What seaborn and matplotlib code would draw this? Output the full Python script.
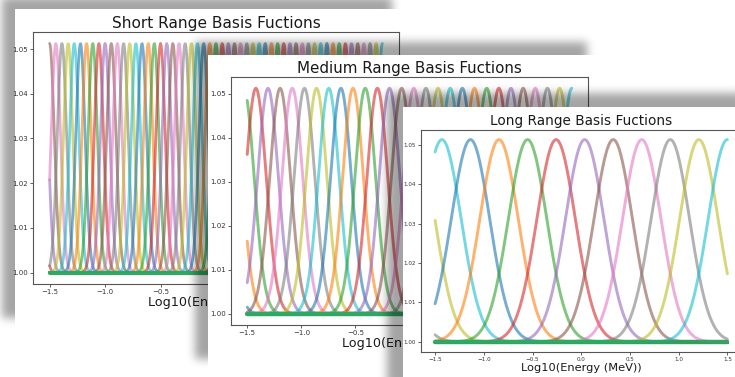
import numpy as np
import pandas as pd
import matplotlib
matplotlib.use("Agg")
import matplotlib.pyplot as plt
from matplotlib.ticker import FuncFormatter
import seaborn as sns

W, H = 735, 377

# ---- data -------------------------------------------------------------
log_energy = np.linspace(-1.5, 1.5, 601)

short_centers = [-1.778, -1.722, -1.667, -1.611, -1.556, -1.500, -1.444, -1.389, -1.333, -1.278,
                 -1.222, -1.167, -1.111, -1.056, -1.000, -0.944, -0.889, -0.833, -0.778, -0.722,
                 -0.667, -0.611, -0.556, -0.500, -0.444, -0.389, -0.333, -0.278, -0.222, -0.167,
                 -0.111, -0.056, 0.000, 0.056, 0.111, 0.167, 0.222, 0.278, 0.333, 0.389,
                 0.444, 0.500, 0.556, 0.611, 0.667, 0.722, 0.778, 0.833, 0.889, 0.944,
                 1.000, 1.056, 1.111, 1.167, 1.222, 1.278, 1.333, 1.389, 1.444, 1.500]
short_width = 0.042

medium_centers = [-1.757, -1.645, -1.532, -1.420, -1.308, -1.196, -1.083, -0.971, -0.859, -0.746,
                  -0.634, -0.522, -0.409, -0.297, -0.185, -0.072, 0.040, 0.152, 0.264, 0.377,
                  0.489, 0.601, 0.714, 0.826, 0.938, 1.051, 1.163, 1.275, 1.388, 1.500]
medium_width = 0.097

long_centers = [-4.067, -3.774, -3.481, -3.188, -2.895, -2.602, -2.309, -2.016, -1.700, -1.430,
                -1.137, -0.844, -0.551, -0.258, 0.035, 0.328, 0.621, 0.914, 1.207, 1.500]
long_width = 0.20

# basis functions parked far outside the plotted window (flat at 1.00)
edge_centers = [-9.0, 9.0]

basis_amplitude = 0.05

titles = ["Short Range Basis Fuctions", "Medium Range Basis Fuctions", "Long Range Basis Fuctions"]
x_label = "Log10(Energy (MeV))"
x_ticks = [-1.5, -1.0, -0.5, 0.0, 0.5, 1.0, 1.5]
y_ticks = [1.00, 1.01, 1.02, 1.03, 1.04, 1.05]

# ---- styling / layout (pixel boxes: x0, y0, x1, y1 from top-left) ---------
tab10 = sns.color_palette("tab10", 10)
edge_colors = [tab10[9], tab10[2]]

panels = [
    dict(title=titles[0], centers=short_centers, width=short_width,
         card=(15, 9, 405, 330), axes=(33, 32, 399, 284), shadow=(-13, -12),
         title_fs=11.1, label_fs=9.2, tick_fs=5.0, lw=2.0),
    dict(title=titles[1], centers=medium_centers, width=medium_width,
         card=(208, 55, 600, 372), axes=(231, 77, 588, 325), shadow=(-13, -13),
         title_fs=10.9, label_fs=9.2, tick_fs=5.0, lw=2.1),
    dict(title=titles[2], centers=long_centers, width=long_width,
         card=(403, 107, 760, 400), axes=(420.5, 129.5, 742, 352), shadow=(-16, -14),
         title_fs=9.8, label_fs=8.2, tick_fs=4.1, lw=2.1),
]


def gaussian_blur(mask, sigma):
    r = int(3 * sigma) + 1
    k = np.arange(-r, r + 1)
    kern = np.exp(-0.5 * (k / sigma) ** 2)
    kern /= kern.sum()
    out = np.apply_along_axis(lambda v: np.convolve(v, kern, mode="same"), 0, mask)
    out = np.apply_along_axis(lambda v: np.convolve(v, kern, mode="same"), 1, out)
    return out


def card_layer(card, offset, sigma=4.5, strength=0.36):
    """RGBA layer: a white card with a soft drop shadow behind it."""
    pad = 40
    x0, y0, x1, y1 = card
    dx, dy = offset
    yy, xx = np.mgrid[-pad:H + pad, -pad:W + pad] + 0.5
    sh = ((xx >= x0 + dx) & (xx < x1 + dx) & (yy >= y0 + dy) & (yy < y1 + dy)).astype(float)
    sh = gaussian_blur(sh, sigma)[pad:H + pad, pad:W + pad]
    rgba = np.zeros((H, W, 4))
    rgba[..., 3] = strength * sh
    yy, xx = np.mgrid[0:H, 0:W] + 0.5
    inside = (xx >= x0) & (xx < x1) & (yy >= y0) & (yy < y1)
    rgba[inside] = (1.0, 1.0, 1.0, 1.0)
    return rgba


def basis_frame(centers, width, tag):
    frames = []
    for i, c in enumerate(centers):
        vals = np.exp(basis_amplitude * np.exp(-0.5 * ((log_energy - c) / width) ** 2))
        frames.append(pd.DataFrame({"logE": log_energy, "value": vals, "basis": f"{tag}{i:03d}"}))
    return pd.concat(frames, ignore_index=True)


def fig_rect(box):
    x0, y0, x1, y1 = box
    return [x0 / W, 1 - y1 / H, (x1 - x0) / W, (y1 - y0) / H]


sns.set_style("ticks")
plt.rcParams["font.family"] = ["DejaVu Sans"]

fig = plt.figure(figsize=(W / 100, H / 100), dpi=100)
fig.patch.set_facecolor("white")

for k, p in enumerate(panels):
    bg = fig.add_axes([0, 0, 1, 1], zorder=2 * k)
    bg.imshow(card_layer(p["card"], p["shadow"]), extent=(0, W, H, 0),
              aspect="auto", interpolation="nearest")
    bg.set_xlim(0, W)
    bg.set_ylim(H, 0)
    bg.axis("off")

    ax = fig.add_axes(fig_rect(p["axes"]), zorder=2 * k + 1)
    ax.set_facecolor("white")

    df = basis_frame(p["centers"], p["width"], "b")
    palette = [tab10[i % 10] for i in range(len(p["centers"]))]
    sns.lineplot(data=df, x="logE", y="value", hue="basis", palette=palette,
                 legend=False, estimator=None, sort=False,
                 linewidth=p["lw"], alpha=0.6, ax=ax)

    edge_df = basis_frame(edge_centers, p["width"], "e")
    sns.lineplot(data=edge_df, x="logE", y="value", hue="basis", palette=edge_colors,
                 legend=False, estimator=None, sort=False,
                 linewidth=p["lw"] * 1.5, alpha=0.6, ax=ax)

    ax.set_xticks(x_ticks)
    ax.set_yticks(y_ticks)
    ax.yaxis.set_major_formatter(FuncFormatter(lambda v, _: f"{v:.2f}"))
    ax.xaxis.set_major_formatter(FuncFormatter(lambda v, _: f"{v:.1f}".replace("-", "\u2212")))
    ax.tick_params(axis="both", labelsize=p["tick_fs"], length=2, width=0.6,
                   pad=1.5, color="#444444", labelcolor="#333333")
    for s in ax.spines.values():
        s.set_color("#555555")
        s.set_linewidth(0.8)
        s.set_visible(True)
    ax.set_title(p["title"], fontsize=p["title_fs"], pad=3, color="#1a1a1a")
    ax.set_xlabel(x_label, fontsize=p["label_fs"], labelpad=1, color="#1a1a1a")
    ax.set_ylabel("")

fig.savefig("out.png", dpi=100, facecolor="white")
